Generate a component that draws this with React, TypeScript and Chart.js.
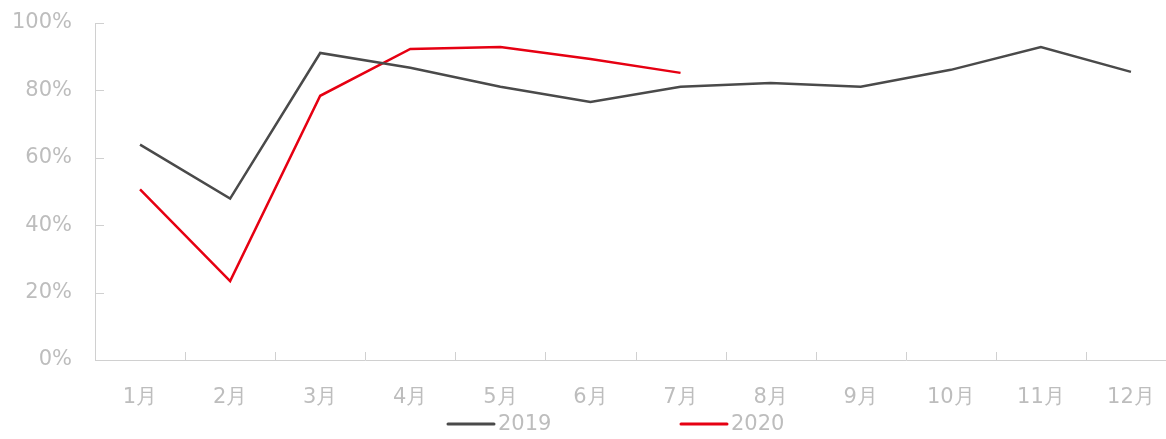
import React, { useEffect, useRef } from "react";
import { Chart, registerables } from "chart.js";

Chart.register(...registerables);

const categories = ["1月", "2月", "3月", "4月", "5月", "6月", "7月", "8月", "9月", "10月", "11月", "12月"];
const series2019 = [63.9, 47.9, 91.1, 86.7, 81.1, 76.6, 81.1, 82.2, 81.1, 86.1, 92.9, 85.5];
const series2020 = [50.6, 23.4, 78.4, 92.3, 92.9, 89.3, 85.2];
const seriesNames = ["2019", "2020"];
const seriesColors = ["#4a4a4a", "#e60012"];

const AXIS_COLOR = "#d0d0d0";
const LABEL_COLOR = "#bdbdbd";
const FONT = "'DejaVu Sans', Verdana, sans-serif";

const innerTicks = {
  id: "innerTicks",
  afterDatasetsDraw(chart: any) {
    const ctx = chart.ctx;
    const x = chart.scales.x;
    const y = chart.scales.y;
    ctx.save();
    ctx.strokeStyle = AXIS_COLOR;
    ctx.lineWidth = 1;
    ctx.beginPath();
    y.ticks.forEach((_t: any, i: number) => {
      const py = Math.round(y.getPixelForTick(i)) + 0.5;
      ctx.moveTo(x.left, py);
      ctx.lineTo(x.left + 9, py);
    });
    for (let i = 1; i < categories.length; i++) {
      const px = Math.round((x.getPixelForTick(i - 1) + x.getPixelForTick(i)) / 2) + 0.5;
      ctx.moveTo(px, y.bottom);
      ctx.lineTo(px, y.bottom - 8);
    }
    ctx.stroke();
    ctx.restore();
  },
};

const customLegend = {
  id: "customLegend",
  afterDraw(chart: any) {
    const ctx = chart.ctx;
    const starts = [447, 680];
    const cy = 424;
    ctx.save();
    ctx.font = `21px ${FONT}`;
    ctx.textBaseline = "middle";
    ctx.textAlign = "left";
    chart.data.datasets.forEach((ds: any, i: number) => {
      const sx = starts[i];
      ctx.strokeStyle = ds.borderColor;
      ctx.lineWidth = 3;
      ctx.lineCap = "round";
      ctx.beginPath();
      ctx.moveTo(sx + 1, cy);
      ctx.lineTo(sx + 47, cy);
      ctx.stroke();
      ctx.fillStyle = LABEL_COLOR;
      ctx.fillText(ds.label, sx + 51, cy + 1);
    });
    ctx.restore();
  },
};

export default function App() {
  const ref = useRef<HTMLCanvasElement>(null);
  useEffect(() => {
    if (!ref.current) return;
    const chart = new Chart(ref.current, {
      type: "line",
      data: {
        labels: categories,
        datasets: [
          {
            label: seriesNames[0],
            data: series2019,
            borderColor: seriesColors[0],
            backgroundColor: seriesColors[0],
            borderWidth: 2.5,
            pointRadius: 0,
            tension: 0,
          },
          {
            label: seriesNames[1],
            data: series2020,
            borderColor: seriesColors[1],
            backgroundColor: seriesColors[1],
            borderWidth: 2.5,
            pointRadius: 0,
            tension: 0,
          },
        ],
      },
      options: {
        responsive: false,
        animation: false,
        layout: { padding: { top: 23, left: 0, right: 0, bottom: 0 } },
        plugins: { legend: { display: false }, tooltip: { enabled: false } },
        scales: {
          x: {
            type: "category",
            offset: true,
            grid: { display: false, drawTicks: false, offset: true },
            border: { display: true, color: AXIS_COLOR, width: 1 },
            ticks: {
              color: LABEL_COLOR,
              font: { family: FONT, size: 21 },
              padding: 25,
              maxRotation: 0,
              autoSkip: false,
            },
            afterFit(scale: any) {
              scale.height = 79;
              scale.paddingLeft = 0;
              scale.paddingRight = 0;
            },
          },
          y: {
            min: 0,
            max: 100,
            grid: { display: false, drawTicks: false },
            border: { display: true, color: AXIS_COLOR, width: 1 },
            ticks: {
              stepSize: 20,
              color: LABEL_COLOR,
              font: { family: FONT, size: 21 },
              padding: 23,
              callback: (v: any) => `${v}%`,
            },
            afterFit(scale: any) {
              scale.width = 95;
              scale.paddingTop = 0;
              scale.paddingBottom = 0;
            },
          },
        },
      },
      plugins: [innerTicks, customLegend],
    });
    return () => chart.destroy();
  }, []);
  return (
    <div style={{ position: "fixed", left: 0, top: 0, width: 1166, height: 439, overflow: "hidden", background: "#fff" }}>
      <canvas ref={ref} width={1176} height={439} style={{ width: 1176, height: 439, display: "block" }} />
    </div>
  );
}
